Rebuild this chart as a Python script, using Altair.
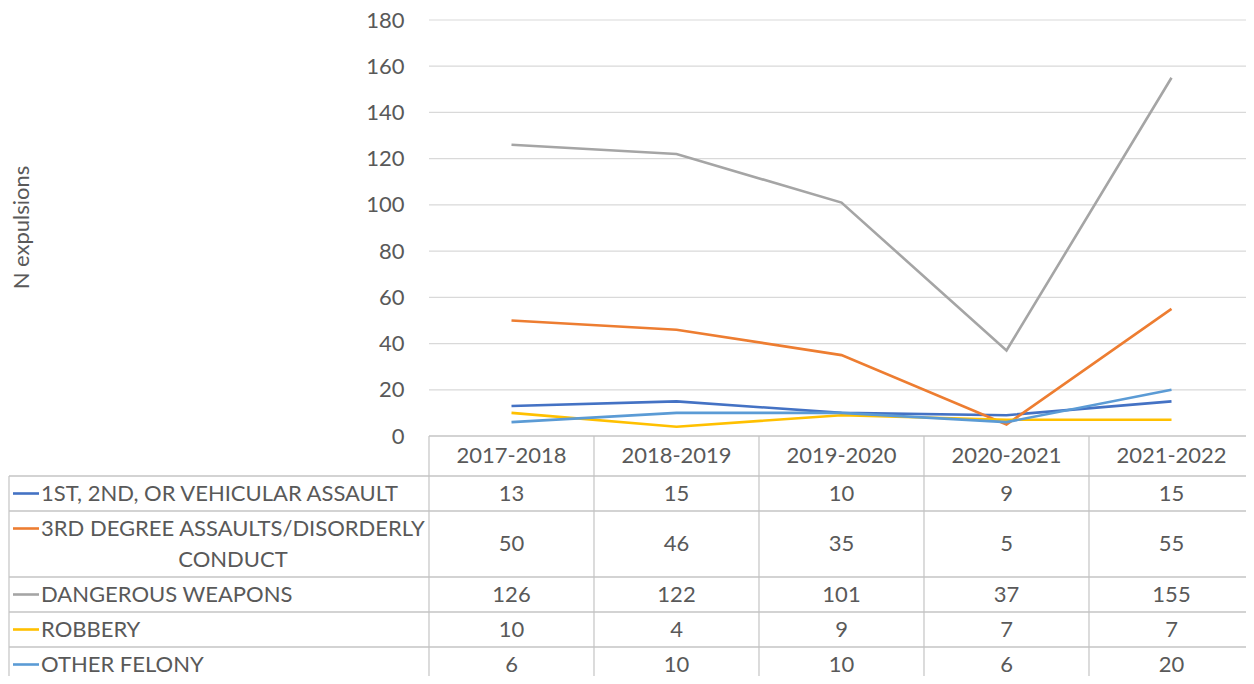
import altair as alt
import pandas as pd

# ---------------- data ----------------
YEARS = ["2017-2018", "2018-2019", "2019-2020", "2020-2021", "2021-2022"]
SERIES = [
    "1ST, 2ND, OR VEHICULAR ASSAULT",
    "3RD DEGREE ASSAULTS/DISORDERLY CONDUCT",
    "DANGEROUS WEAPONS",
    "ROBBERY",
    "OTHER FELONY",
]
LABEL_LINES = [
    ["1ST, 2ND, OR VEHICULAR ASSAULT"],
    ["3RD DEGREE ASSAULTS/DISORDERLY", "CONDUCT"],
    ["DANGEROUS WEAPONS"],
    ["ROBBERY"],
    ["OTHER FELONY"],
]
V_ASSAULT = [13, 15, 10, 9, 15]
V_DISORDERLY = [50, 46, 35, 5, 55]
V_WEAPONS = [126, 122, 101, 37, 155]
V_ROBBERY = [10, 4, 9, 7, 7]
V_OTHER = [6, 10, 10, 6, 20]
VALUES = [V_ASSAULT, V_DISORDERLY, V_WEAPONS, V_ROBBERY, V_OTHER]
COLORS = ["#4472C4", "#ED7D31", "#A5A5A5", "#FFC000", "#5B9BD5"]
Y_TICKS = [0, 20, 40, 60, 80, 100, 120, 140, 160, 180]
Y_MAX = 180
Y_TITLE = "N expulsions"

# ---------------- style / layout ----------------
FONT = "Lato"
TEXT_COLOR = "#595959"
FS = 22
GRID_COLOR = "#D9D9D9"
TABLE_COLOR = "#C4C4C4"

PLOT_W, PLOT_H = 1237, 656
PAD_LEFT, PAD_TOP = 1, 12
COL_PX = 165            # width of one year column
LABEL_COL_PX = 420      # width of the table's label column
VALUE_AREA_PX = 416     # pixels from 0 to Y_MAX
HEADER_PX = 40
LINE_PX = 31
ROW_PAD_PX = 4
SWATCH_FROM_PX, SWATCH_TO_PX, LABEL_PX = 4, 30, 32

px_per_unit = VALUE_AREA_PX / Y_MAX
X_LEFT = -LABEL_COL_PX / COL_PX
X_RIGHT = X_LEFT + PLOT_W / COL_PX
Y_MIN = Y_MAX - PLOT_H / px_per_unit
N = len(YEARS)


def vy(px):
    """pixel distance below the value axis -> y value"""
    return -px / px_per_unit


bounds = [0, HEADER_PX]
for lines in LABEL_LINES:
    bounds.append(bounds[-1] + len(lines) * LINE_PX + ROW_PAD_PX)

xs = alt.Scale(domain=[X_LEFT, X_RIGHT], nice=False, zero=False)
ys = alt.Scale(domain=[Y_MIN, Y_MAX], nice=False, zero=False)
cs = alt.Scale(domain=SERIES, range=COLORS)

y_axis = alt.Axis(
    values=Y_TICKS, offset=-LABEL_COL_PX, grid=False, domain=False, ticks=False,
    tickSize=0, labelPadding=25, labelFontSize=FS, labelColor=TEXT_COLOR,
    labelFont=FONT, title=Y_TITLE, titleFontSize=FS, titleFont=FONT,
    titleFontWeight="normal", titleColor=TEXT_COLOR, titleAngle=270,
    titleX=-396, titleY=207, titleAlign="center", titleBaseline="bottom",
)


def X(field):
    return alt.X(f"{field}:Q", scale=xs, axis=None)


def Y(field):
    return alt.Y(f"{field}:Q", scale=ys, axis=y_axis)


# ---------------- tables ----------------
line_rows = []
for s, vals in zip(SERIES, VALUES):
    for i, (yr, v) in enumerate(zip(YEARS, vals)):
        line_rows.append({"series": s, "year": yr, "x": i + 0.5, "value": v})
lines_df = pd.DataFrame(line_rows)

grid_df = pd.DataFrame({"y": [t for t in Y_TICKS if t > 0]})
grid_df["x0"] = 0
grid_df["x1"] = N

hlines = [{"y": 0, "x0": 0, "x1": N}] + [
    {"y": vy(b), "x0": X_LEFT, "x1": N} for b in bounds[1:]
]
hline_df = pd.DataFrame(hlines)
vlines = [{"x": float(i), "y0": 0, "y1": vy(bounds[-1] + 10)} for i in range(N + 1)]
vlines.append({"x": X_LEFT, "y0": vy(bounds[1]), "y1": vy(bounds[-1] + 10)})
vline_df = pd.DataFrame(vlines)

header_df = pd.DataFrame({"year": YEARS, "x": [i + 0.5 for i in range(N)],
                          "y": vy(HEADER_PX / 2)})

val_rows, first_rows, cont_rows, sw_rows = [], [], [], []
for r, (s, vals, lab) in enumerate(zip(SERIES, VALUES, LABEL_LINES)):
    top, bot = bounds[r + 1], bounds[r + 2]
    for i, v in enumerate(vals):
        val_rows.append({"x": i + 0.5, "y": vy((top + bot) / 2), "text": str(v)})
    for k, ln in enumerate(lab):
        yc = vy(top + ROW_PAD_PX / 2 + LINE_PX * (k + 0.5))
        if k == 0:
            first_rows.append({"x": X_LEFT + LABEL_PX / COL_PX, "y": yc, "text": ln})
            sw_rows.append({"series": s, "x0": X_LEFT + SWATCH_FROM_PX / COL_PX,
                            "x1": X_LEFT + SWATCH_TO_PX / COL_PX, "y": yc})
        else:
            cont_rows.append({"x": X_LEFT + (LABEL_PX + LABEL_COL_PX - 4) / 2 / COL_PX,
                              "y": yc, "text": ln})
val_df = pd.DataFrame(val_rows)
first_df = pd.DataFrame(first_rows)
cont_df = pd.DataFrame(cont_rows)
sw_df = pd.DataFrame(sw_rows)

# ---------------- layers ----------------
grid = alt.Chart(grid_df).mark_rule(color=GRID_COLOR, strokeWidth=1.2).encode(
    y=Y("y"), x=X("x0"), x2="x1")

hl = alt.Chart(hline_df).mark_rule(color=TABLE_COLOR, strokeWidth=1.4).encode(
    y=Y("y"), x=X("x0"), x2="x1")
vl = alt.Chart(vline_df).mark_rule(color=TABLE_COLOR, strokeWidth=1.2).encode(
    x=X("x"), y=Y("y0"), y2="y1")

lines = alt.Chart(lines_df).mark_line(strokeWidth=2.6).encode(
    x=X("x"), y=Y("value"),
    color=alt.Color("series:N", scale=cs, legend=None),
    order="x:Q",
)

text_kw = dict(font=FONT, fontSize=FS, color=TEXT_COLOR, baseline="middle")
header = alt.Chart(header_df).mark_text(align="center", **text_kw).encode(
    x=X("x"), y=Y("y"), text="year:N")
vals = alt.Chart(val_df).mark_text(align="center", **text_kw).encode(
    x=X("x"), y=Y("y"), text="text:N")
labels1 = alt.Chart(first_df).mark_text(align="left", **text_kw).encode(
    x=X("x"), y=Y("y"), text="text:N")
labels2 = alt.Chart(cont_df).mark_text(align="center", **text_kw).encode(
    x=X("x"), y=Y("y"), text="text:N")
swatch = alt.Chart(sw_df).mark_rule(strokeWidth=2.6).encode(
    x=X("x0"), x2="x1", y=Y("y"),
    color=alt.Color("series:N", scale=cs, legend=None))

chart = alt.layer(
    grid, hl, vl, lines, header, vals, labels1, labels2, swatch
).properties(
    width=PLOT_W, height=PLOT_H,
    background="white",
    autosize=alt.AutoSizeParams(type="none"),
    padding={"left": PAD_LEFT, "top": PAD_TOP, "right": 0, "bottom": 0},
).configure_view(stroke=None)

chart.save("out.html", embed_options={"renderer": "svg", "actions": False})
